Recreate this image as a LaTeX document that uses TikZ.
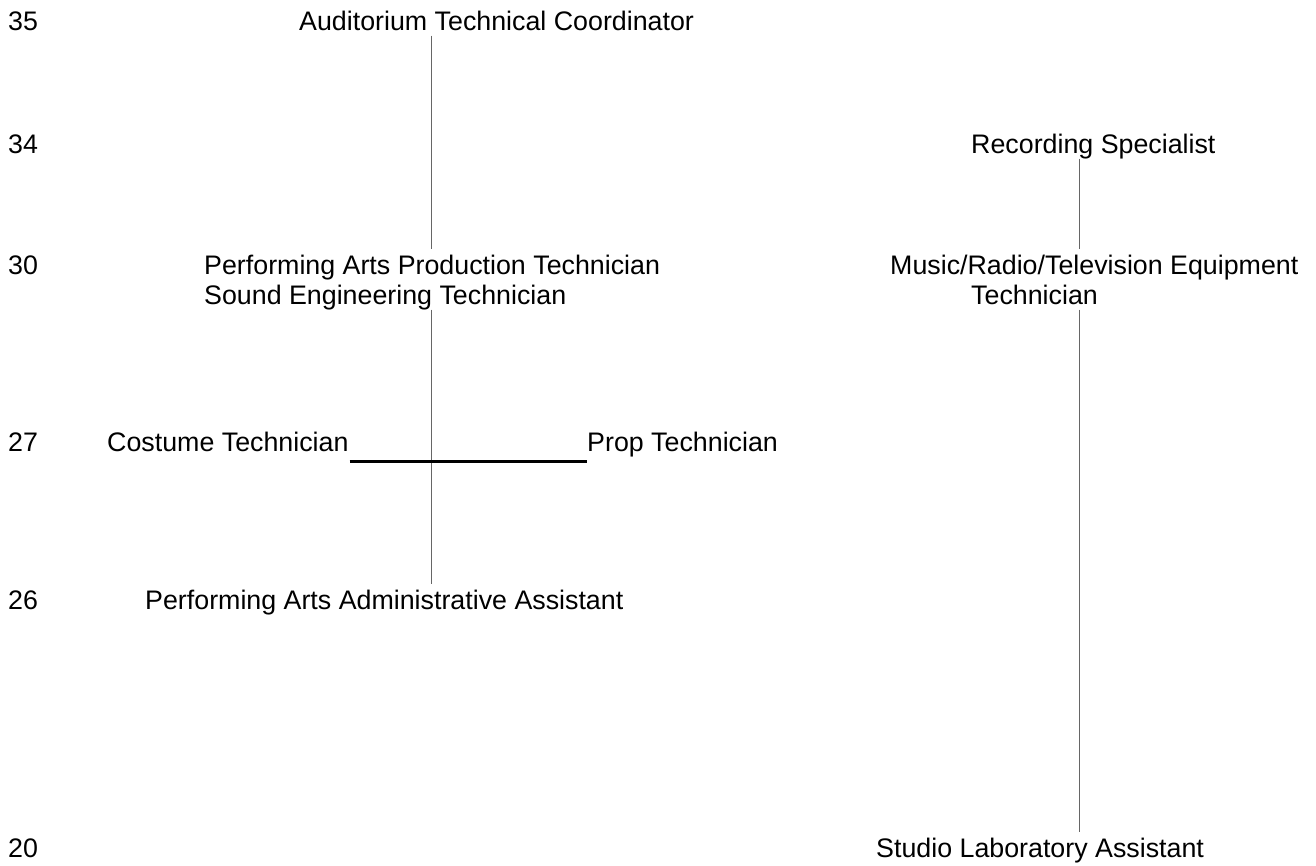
\documentclass[tikz,border=0pt]{standalone}
\usepackage{fontspec}
\setmainfont{Liberation Sans}
\begin{document}
\begin{tikzpicture}[x=1pt,y=-1pt,
  lbl/.style={anchor=base west,inner sep=0pt,text height=25pt,text depth=5pt,font=\fontsize{26.8}{30}\selectfont},
  conn/.style={draw=black!60,line width=1pt},
  hconn/.style={draw=black,line width=2.6pt}]
\useasboundingbox[fill=white] (0,0) rectangle (1316,865);
% level labels
\node[lbl] (l35) at (8,30.5) {35};
\node[lbl] (l34) at (8,153.5) {34};
\node[lbl] (l30) at (8,274.5) {30};
\node[lbl] (l27) at (8,451.5) {27};
\node[lbl] (l26) at (8,609.5) {26};
\node[lbl] (l20) at (8,857.5) {20};
% jobs
\node[lbl] (atc) at (299,30.5) {Auditorium Technical Coordinator};
\node[lbl] (rec) at (971,153.5) {Recording Specialist};
\node[lbl] (prod) at (204,274.5) {Performing Arts Production Technician};
\node[lbl] (snd) at (204,304.5) {Sound Engineering Technician};
\node[lbl] (mus) at (890,274.5) {Music/Radio/Television Equipment};
\node[lbl] (tech) at (971,304.5) {Technician};
\node[lbl] (cos) at (107,451.5) {Costume Technician};
\node[lbl] (prop) at (587,451.5) {Prop Technician};
\node[lbl] (adm) at (145,609.5) {Performing Arts Administrative Assistant};
\node[lbl] (stu) at (876,857.5) {Studio Laboratory Assistant};
% connectors
\draw[conn] ([xshift=132pt]atc.south west) -- ([xshift=227pt]prod.north west);
\draw[conn] ([xshift=227pt]snd.south west) -- ([xshift=286pt]adm.north west);
\draw[conn] ([xshift=108pt]rec.south west) -- ([xshift=189pt]mus.north west);
\draw[conn] ([xshift=108pt]tech.south west) -- ([xshift=203pt]stu.north west);
\draw[hconn] ([xshift=1pt,yshift=-10pt]cos.base east) -- ([yshift=-10pt]prop.base west);
\end{tikzpicture}
\end{document}
